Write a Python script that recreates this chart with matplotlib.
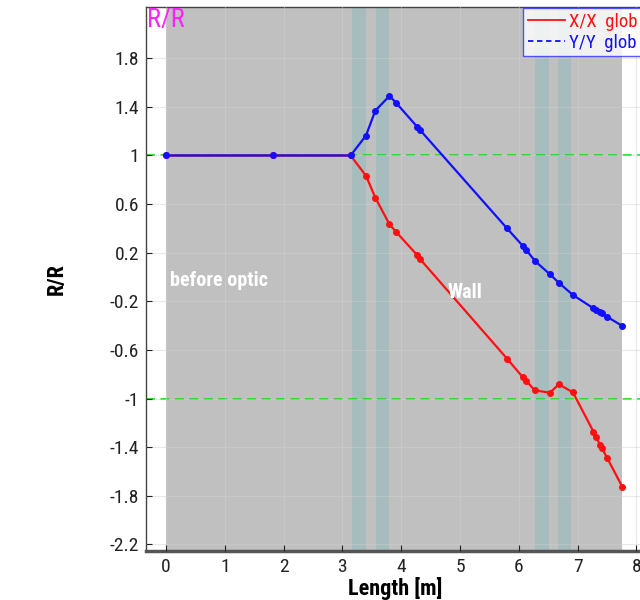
import matplotlib
matplotlib.use("Agg")
import matplotlib.pyplot as plt
from matplotlib.lines import Line2D
from matplotlib import font_manager

# Prefer a narrow sans face when one is installed
_installed = {f.name for f in font_manager.fontManager.ttflist}
_wanted = ['Liberation Sans Narrow', 'DejaVu Sans Condensed', 'Roboto Condensed',
           'Open Sans Condensed', 'Liberation Sans', 'DejaVu Sans']
plt.rcParams['font.family'] = [f for f in _wanted if f in _installed] or ['DejaVu Sans']

# Element positions along the beamline [m]
length = [0.0, 1.82, 3.14, 3.40, 3.56, 3.80, 3.91, 4.27, 4.32, 5.80, 6.07,
          6.13, 6.27, 6.53, 6.68, 6.92, 7.27, 7.32, 7.38, 7.41, 7.50, 7.76]
# Normalised envelope ratios
xx_glob = [1.0, 1.0, 1.0, 0.834, 0.653, 0.434, 0.373, 0.181, 0.148, -0.672,
           -0.826, -0.856, -0.933, -0.952, -0.883, -0.949, -1.273, -1.320,
           -1.383, -1.405, -1.487, -1.726]
yy_glob = [1.0, 1.0, 1.0, 1.163, 1.369, 1.490, 1.435, 1.237, 1.210, 0.400,
           0.255, 0.222, 0.134, 0.022, -0.047, -0.148, -0.258, -0.272,
           -0.285, -0.295, -0.327, -0.403]

# Shaded regions
section_span = (0.0, 7.75)
optic_spans = [(3.16, 3.40), (3.57, 3.79), (6.28, 6.51), (6.67, 6.89)]
ref_levels = [1.0, -1.0]
yticks = [-2.2, -1.8, -1.4, -1.0, -0.6, -0.2, 0.2, 0.6, 1.0, 1.4, 1.8]
ytick_labels = ['-2.2', '-1.8', '-1.4', '-1', '-0.6', '-0.2', '0.2', '0.6', '1', '1.4', '1.8']
xticks = [0, 1, 2, 3, 4, 5, 6, 7, 8]

W, H = 640, 600
fig = plt.figure(figsize=(W / 100, H / 100), dpi=100)
left_px, right_px, top_px, bot_px = 146, 645, 7, 551
ax = fig.add_axes([left_px / W, 1 - bot_px / H,
                   (right_px - left_px) / W, (bot_px - top_px) / H])

ax.set_xlim(-0.34, 8.146)
ax.set_ylim(-2.255, 2.222)

ax.axvspan(*section_span, color='#c0c0c0', zorder=0, lw=0)
for a, b in optic_spans:
    ax.axvspan(a, b, color='#a7bcbc', zorder=0.5, lw=0)

ax.set_axisbelow(False)
ax.grid(True, color='#d0d0d0', lw=0.8, alpha=0.45, zorder=1)

for lvl in ref_levels:
    ax.axhline(lvl, color='#22dd22', lw=1.3, ls=(0, (5, 3)), zorder=2)

ax.plot(length, xx_glob, color='#ff1010', lw=1.6, marker='o', ms=4, zorder=3)
ax.plot(length, yy_glob, color='#1010ff', lw=1.6, marker='o', ms=4, zorder=4)

ax.text(0.07, -0.03, 'before optic', color='white', fontsize=14.5,
        fontweight='bold', va='center', ha='left', zorder=5)
ax.text(4.78, -0.13, 'Wall', color='white', fontsize=14.5,
        fontweight='bold', va='center', ha='left', zorder=5)
ax.text(-0.32, 2.215, 'R/R', color='#ff22ff', fontsize=19, va='top', ha='left', zorder=5)

ax.set_xticks(xticks)
ax.set_yticks(yticks)
ax.set_yticklabels(ytick_labels)
ax.tick_params(direction='in', length=4, labelsize=14, colors='#222222',
               width=0.8, pad=5)
for s in ax.spines.values():
    s.set_color('#444444')
    s.set_linewidth(1.0)
ax.spines['bottom'].set_linewidth(2.5)
ax.spines['bottom'].set_color('#555555')

ax.set_xlabel('Length [m]', fontsize=16, fontweight='bold', labelpad=1)
ax.set_ylabel('R/R', fontsize=16, fontweight='bold', labelpad=30)

handles = [Line2D([], [], color='#ff1010', lw=1.3),
           Line2D([], [], color='#1010ff', lw=1.3, ls=(0, (3, 2)))]
leg = ax.legend(handles, ['X/X  glob', 'Y/Y  glob'], loc='upper left',
                bbox_to_anchor=(523 / W, 1 - 8 / H),
                bbox_transform=fig.transFigure, fontsize=13.5, frameon=True,
                fancybox=False, handlelength=2.0, handletextpad=0.2,
                borderpad=0.25, labelspacing=0.15, borderaxespad=0)
leg.get_frame().set_edgecolor('#3030ff')
leg.get_frame().set_linewidth(1.0)
for txt, c in zip(leg.get_texts(), ['#ff1010', '#1010ff']):
    txt.set_color(c)

fig.savefig('out.png', dpi=100)
